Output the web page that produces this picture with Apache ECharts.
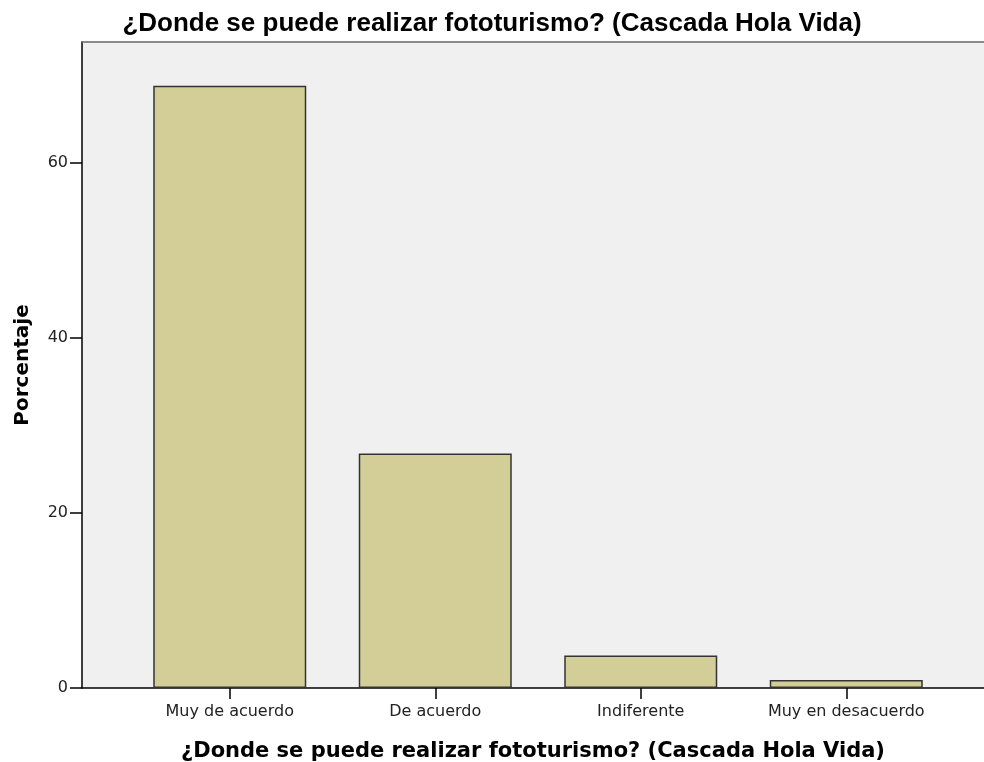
<!DOCTYPE html>
<html>
<head>
<meta charset="utf-8">
<script src="https://cdn.jsdelivr.net/npm/echarts@6/dist/echarts.min.js"></script>
<style>
html, body { margin: 0; padding: 0; background: #fff; }
#main { width: 984px; height: 762px; }
</style>
</head>
<body>
<div id="main"></div>
<script>
// categorías y porcentajes
var categorias = ['Muy de acuerdo', 'De acuerdo', 'Indiferente', 'Muy en desacuerdo']
var porcentajes = [68.8, 26.8, 3.7, 0.9]
var ticksY = [0, 20, 40, 60]
var maxY = 73.8

var titulo = '¿Donde se puede realizar fototurismo? (Cascada Hola Vida)'

var myChart = echarts.init(document.getElementById('main'))
var option = {
    animation: false,
    title: {
        text: titulo,
        left: 'center',
        top: 6,
        textStyle: {
            fontFamily: 'Liberation Sans',
            fontSize: 26,
            fontWeight: 'bold',
            color: '#000'
        }
    },
    grid: [
        // fondo y eje Y
        {
            left: 82, right: 0, top: 42, bottom: 74,
            outerBoundsMode: 'none',
            show: true, backgroundColor: '#f0f0f0', borderWidth: 0
        },
        // barras
        { left: 127, right: 35, top: 42, bottom: 74, outerBoundsMode: 'none' }
    ],
    xAxis: [
        {
            gridIndex: 0,
            type: 'value', min: 0, max: 1,
            axisLine: { show: true, lineStyle: { color: '#000', width: 1.5 } },
            axisTick: { show: false },
            axisLabel: { show: false },
            splitLine: { show: false },
            name: titulo,
            nameLocation: 'middle',
            nameGap: 53,
            nameTextStyle: {
                fontFamily: 'DejaVu Sans',
                fontSize: 21,
                fontWeight: 'bold',
                color: '#000'
            }
        },
        {
            gridIndex: 0,
            type: 'value', min: 0, max: 1, position: 'top',
            axisLine: { show: true, lineStyle: { color: '#666', width: 1.5 } },
            axisTick: { show: false },
            axisLabel: { show: false },
            splitLine: { show: false }
        },
        {
            gridIndex: 1,
            type: 'category',
            data: categorias,
            axisLine: { show: false },
            axisTick: { show: true, alignWithLabel: true, length: 11, lineStyle: { color: '#000', width: 1.5 } },
            axisLabel: {
                margin: 16,
                fontFamily: 'DejaVu Sans',
                fontSize: 16,
                color: '#222'
            }
        }
    ],
    yAxis: [
        {
            gridIndex: 0,
            type: 'value', min: 0, max: maxY,
            axisLine: { show: true, lineStyle: { color: '#000', width: 1.5 } },
            axisTick: { show: true, length: 12, lineStyle: { color: '#000', width: 1.5 }, customValues: ticksY },
            axisLabel: {
                customValues: ticksY,
                margin: 14,
                fontFamily: 'DejaVu Sans',
                fontSize: 16,
                color: '#222'
            },
            splitLine: { show: false },
            name: 'Porcentaje',
            nameLocation: 'middle',
            nameGap: 49,
            nameTextStyle: {
                fontFamily: 'DejaVu Sans',
                fontSize: 20,
                fontWeight: 'bold',
                color: '#000'
            }
        },
        {
            gridIndex: 1,
            type: 'value', min: 0, max: maxY,
            show: false
        }
    ],
    series: [
        {
            name: 'Porcentaje',
            type: 'bar',
            xAxisIndex: 2,
            yAxisIndex: 1,
            barWidth: 153,
            data: porcentajes,
            itemStyle: {
                color: '#d3ce98',
                borderColor: '#333',
                borderWidth: 1.5
            }
        }
    ]
}
myChart.setOption(option)
</script>
</body>
</html>
